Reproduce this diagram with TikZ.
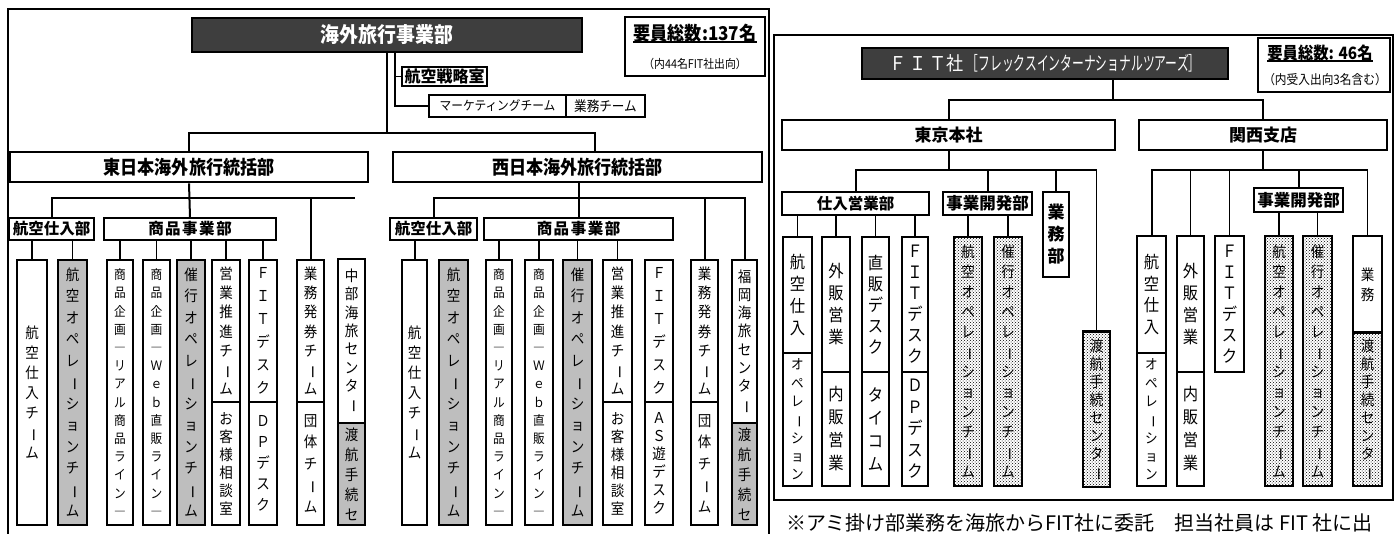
\documentclass[tikz,border=0pt]{standalone}
\usepackage{fontspec}
\usepackage{graphicx}
\usetikzlibrary{patterns}
\newfontfamily\jp{Noto Sans CJK JP}[FakeStretch=0.9]
\newfontfamily\jpc{Noto Sans CJK JP}[FakeStretch=0.62]
\newfontfamily\jpw{Noto Sans CJK JP}
\definecolor{darkbox}{RGB}{62,62,62}
\definecolor{cellgray}{RGB}{190,190,190}

\makeatletter
% one glyph per line, long vowel mark turned upright
\def\vbar{ー}
\newcommand\vtext[2][21]{\vbox{\baselineskip=#1pt\lineskiplimit=-100pt\lineskip=0pt
  \@tfor\ch:=#2\do{\hbox to 1.1em{\hss\ifx\ch\vbar\rotatebox[origin=c]{-90}{ー}\else\ch\fi\hss}}}}
\makeatother
% box from its corners (x1,y1) (x2,y2)
\newcommand\bx[7][]{\node[#1,minimum width={#5-#3},minimum height={#6-#4}] (#2) at ({(#3+#5)/2},{(#4+#6)/2}) {#7};}

\begin{document}
\begin{tikzpicture}[x=1pt,y=-1pt,
  panel/.style={line width=2pt},
  conn/.style={line width=2pt},
  thinconn/.style={line width=1.1pt},
  dark/.style={draw,line width=2.6pt,fill=darkbox,text=white,inner sep=0pt},
  hdr/.style={draw,line width=2.6pt,inner sep=0pt,font=\jp\bfseries\fontsize{19}{19}\selectfont},
  sub/.style={draw,line width=2.4pt,inner sep=0pt,font=\jpw\bfseries\fontsize{15.5}{15.5}\selectfont},
  cell/.style={draw,line width=1.2pt,inner sep=0pt,font=\jp\fontsize{15}{15}\selectfont},
  smalltxt/.style={font=\jp\fontsize{13}{13}\selectfont},
  gcell/.style={cell,fill=cellgray},
  rcell/.style={cell,font=\jp\fontsize{17}{17}\selectfont},
  ami/.style={cell,pattern=crosshatch dots,line width=2pt},
]
\useasboundingbox (0,0) rectangle (1399,534);

% Panels
\draw[panel] (8,540) |- (769,9) -- (769,540);
\draw[panel] (774,35) rectangle (1393,500);

% ---------------- Overseas travel division
\bx[dark,font=\jp\bfseries\fontsize{21}{21}\selectfont]{kaigai}{192}{18}{582}{52}{海外旅行事業部}
\bx[draw,line width=1.5pt]{yoin}{625}{17}{765}{76}{}
\node[inner sep=0pt,font=\jp\bfseries\fontsize{19}{19}\selectfont] (yoin-a) at (695,33) {要員総数:137名};
\draw[line width=1.8pt] (yoin-a.south west) -- (yoin-a.south east);
\node[inner sep=0pt,font=\jp\fontsize{12}{12}\selectfont] (yoin-b) at (695,64) {（内44名FIT社出向）};
\bx[sub,font=\jpw\bfseries\fontsize{16}{16}\selectfont]{senryaku}{402}{67}{487}{86}{航空戦略室}
\bx[cell,font=\jp\fontsize{13}{13}\selectfont]{mkt}{429}{95}{566}{117}{マーケティングチーム}
\bx[cell,font=\jp\fontsize{14}{14}\selectfont]{gyomuT}{566}{95}{645}{117}{業務チーム}
\bx[hdr]{higashi}{10}{152}{368}{182}{東日本海外旅行統括部}
\bx[hdr]{nishi}{393}{152}{762}{182}{西日本海外旅行統括部}

% top connectors
\coordinate (topBus) at (0,133);
\coordinate (nDrop) at ([xshift=17pt]nishi.north);
\draw[conn] (kaigai.south) -- (kaigai.south |- topBus);
\draw[conn] (higashi.north) |- (nDrop |- topBus) -- (nDrop);
\coordinate (sDrop) at ([xshift=8pt]kaigai.south);
\draw[thinconn] (sDrop) |- (senryaku.west);
\draw[thinconn] (sDrop) |- (mkt.west);

% East Japan
\bx[sub]{eKobu}{9}{218}{94}{240}{航空仕入部}
\bx[sub,line width=1.6pt]{eShobu}{104}{218}{276}{240}{商\hspace{1.5pt}品\hspace{1.5pt}事\hspace{1.5pt}業\hspace{1.5pt}部}
\bx[cell,line width=2pt]{eKoT}{17}{260}{47}{525}{\vtext[20]{航空仕入チーム}}
\bx[gcell]{eKoOp}{58}{260}{87}{525}{\vtext[21.5]{航空オペレーションチーム}}
\bx[cell,smalltxt]{eReal}{107}{260}{133}{525}{\vtext[18.2]{商品企画―リアル商品ライン―}}
\bx[cell,smalltxt]{eWeb}{143}{260}{170}{525}{\vtext[18.2]{商品企画―Ｗｅｂ直販ライン―}}
\bx[gcell,line width=2pt]{eSaiko}{177}{260}{205}{525}{\vtext[21.5]{催行オペレーションチーム}}
\bx[cell]{eEigyo}{212}{260}{240}{402}{\vtext[19.3]{営業推進チーム}}
\bx[cell]{eOkyaku}{212}{402}{240}{525}{\vtext[18]{お客様相談室}}
\bx[cell]{eFit}{249}{260}{277}{402}{\vtext[23]{ＦＩＴデスク}}
\bx[cell]{eDp}{249}{402}{277}{525}{\vtext[21]{ＤＰデスク}}
\bx[cell]{eHakken}{297}{260}{324}{402}{\vtext[19.3]{業務発券チーム}}
\bx[cell]{eDantai}{297}{402}{324}{525}{\vtext[21.5]{団体チーム}}
\bx[cell,line width=2pt]{eChubu}{338}{259}{365}{423}{\vtext[18.3]{中部海旅センター}}
\bx[gcell]{eToko}{338}{423}{365}{525}{\vtext[20]{渡航手続セ}}

\coordinate (eBus) at (0,198);
\coordinate (eBusEnd) at (355,198);
\draw[conn] (higashi.south) -- (eShobu.north);
\draw[conn] (eKobu.north) |- (eHakken.north |- eBus) -- (eHakken.north);
\draw[conn] (eHakken.north |- eBus) -- (eBusEnd);
\foreach \col in {eKoT,eKoOp}
  \draw[thinconn] (\col.north) -- (\col.north |- eKobu.south);
\foreach \col in {eReal,eWeb,eSaiko,eEigyo,eFit}
  \draw[thinconn] (\col.north) -- (\col.north |- eShobu.south);

% West Japan
\bx[sub]{wKobu}{390}{218}{477}{240}{航空仕入部}
\bx[sub,line width=1.6pt]{wShobu}{484}{218}{673}{240}{商\hspace{1.5pt}品\hspace{1.5pt}事\hspace{1.5pt}業\hspace{1.5pt}部}
\bx[cell]{wKoT}{402}{260}{427}{525}{\vtext[20]{航空仕入チーム}}
\bx[gcell]{wKoOp}{439}{260}{468}{525}{\vtext[21.5]{航空オペレーションチーム}}
\bx[cell,smalltxt]{wReal}{486}{260}{512}{525}{\vtext[18.2]{商品企画―リアル商品ライン―}}
\bx[cell,smalltxt]{wWeb}{525}{260}{553}{525}{\vtext[18.2]{商品企画―Ｗｅｂ直販ライン―}}
\bx[gcell,line width=2pt]{wSaiko}{563}{260}{592}{525}{\vtext[21.5]{催行オペレーションチーム}}
\bx[cell]{wEigyo}{603}{260}{632}{402}{\vtext[19.3]{営業推進チーム}}
\bx[cell]{wOkyaku}{603}{402}{632}{525}{\vtext[18]{お客様相談室}}
\bx[cell]{wFit}{645}{260}{673}{402}{\vtext[23]{ＦＩＴデスク}}
\bx[cell]{wAs}{645}{402}{673}{525}{\vtext[18]{ＡＳ遊デスク}}
\bx[cell]{wHakken}{691}{260}{718}{402}{\vtext[19.3]{業務発券チーム}}
\bx[cell]{wDantai}{691}{402}{718}{525}{\vtext[21.5]{団体チーム}}
\bx[cell,line width=2pt]{wFukuoka}{732}{260}{757}{423}{\vtext[18.3]{福岡海旅センター}}
\bx[gcell]{wToko}{732}{423}{757}{525}{\vtext[20]{渡航手続セ}}

\coordinate (wBus) at (0,198);
\draw[conn] (nishi.south -| wShobu.north) -- (wShobu.north);
\draw[conn] (wKobu.north) |- (wFukuoka.north |- wBus) -- (wFukuoka.north);
\draw[conn] (wHakken.north |- wBus) -- (wHakken.north);
\draw[conn] (wKoT.north) -- (wKoT.north |- wKobu.south);
\foreach \col in {wReal,wWeb,wSaiko,wEigyo}
  \draw[thinconn] (\col.north) -- (\col.north |- wShobu.south);

% ---------------- FIT
\bx[dark,font=\jp\fontsize{19}{19}\selectfont]{fitsha}{862}{48}{1228}{79}{Ｆ\hspace{3pt}Ｉ\hspace{3pt}Ｔ社\hspace{3pt}{\jpc［フレックスインターナショナルツアーズ］}}
\bx[draw,line width=1.5pt]{yoin2}{1258}{38}{1390}{92}{}
\node[inner sep=0pt,font=\jp\bfseries\fontsize{17}{17}\selectfont] (yoin2-a) at (1320,53) {要員総数: 46名};
\draw[line width=1.8pt] (yoin2-a.south west) -- (yoin2-a.south east);
\node[inner sep=0pt,font=\jp\fontsize{13}{13}\selectfont] (yoin2-b) at (1325,80) {（内受入出向3名含む）};
\bx[hdr,font=\jpw\bfseries\fontsize{17}{17}\selectfont]{tokyo}{782}{120}{1115}{150}{東京本社}
\bx[hdr,font=\jpw\bfseries\fontsize{17}{17}\selectfont]{kansai}{1139}{120}{1387}{150}{関西支店}

\coordinate (fBus) at (0,100);
\coordinate (fDrop) at ([xshift=68pt]fitsha.south);
\draw[conn] (fDrop) -- (fDrop |- fBus);
\draw[conn] (tokyo.north) |- (kansai.north |- fBus) -- (kansai.north);

% Tokyo
\bx[sub]{tShiire}{782}{192}{929}{215}{仕入営業部}
\bx[sub,font=\jpw\bfseries\fontsize{16.5}{16.5}\selectfont]{tJigyo}{943}{192}{1032}{215}{事業開発部}
\bx[sub,font=\jpw\bfseries\fontsize{17}{17}\selectfont]{tGyomu}{1043}{192}{1069}{277}{\vtext[22]{業務部}}
\bx[rcell]{tKoku}{783}{237}{812}{353}{\vtext[21.7]{航空仕入}}
\bx[cell,font=\jp\fontsize{14}{14}\selectfont]{tOpe}{783}{353}{812}{486}{\vtext[18.3]{オペレーション}}
\bx[rcell]{tGaihan}{822}{237}{850}{372}{\vtext[22]{外販営業}}
\bx[rcell]{tNaihan}{822}{372}{850}{486}{\vtext[23]{内販営業}}
\bx[rcell]{tChoku}{862}{237}{889}{372}{\vtext[21]{直販デスク}}
\bx[rcell]{tTaicom}{862}{372}{889}{486}{\vtext[23]{タイコム}}
\bx[rcell]{tFit}{902}{237}{928}{372}{\vtext[21]{ＦＩＴデスク}}
\bx[rcell]{tDp}{902}{372}{928}{486}{\vtext[21.5]{ＤＰデスク}}
\bx[ami]{tKoOp}{954}{237}{982}{486}{\vtext[20]{航空オペレーションチーム}}
\bx[ami]{tSaiko}{994}{237}{1022}{486}{\vtext[20]{催行オペレーションチーム}}
\bx[ami,line width=1.2pt]{tToko}{1083}{332}{1110}{487}{\vtext[18]{渡航手続センター}}
\draw[line width=2.6pt] (tToko.north west) -- (tToko.north east);

\coordinate (tBus) at (0,170);
\draw[conn] (tokyo.south) -- (tokyo.south |- tBus);
\draw[conn] (tShiire.north) |- (tGyomu.north |- tBus) -- (tGyomu.north);
\draw[conn] (tJigyo.north) -- (tJigyo.north |- tBus);
\draw[thinconn] (tGyomu.north |- tBus) -| (tToko.north);
\foreach \col in {tKoku,tGaihan,tChoku,tFit}
  \draw[thinconn] (\col.north) -- (\col.north |- tShiire.south);
\foreach \col in {tKoOp,tSaiko}
  \draw[thinconn] (\col.north) -- (\col.north |- tJigyo.south);

% Kansai
\bx[sub,font=\jpw\bfseries\fontsize{16.5}{16.5}\selectfont]{kJigyo}{1254}{188}{1343}{212}{事業開発部}
\bx[rcell]{kKoku}{1137}{236}{1166}{353}{\vtext[21.7]{航空仕入}}
\bx[cell,font=\jp\fontsize{14}{14}\selectfont]{kOpe}{1137}{353}{1166}{486}{\vtext[18.3]{オペレーション}}
\bx[rcell]{kGaihan}{1177}{236}{1204}{372}{\vtext[22]{外販営業}}
\bx[rcell]{kNaihan}{1177}{372}{1204}{486}{\vtext[23]{内販営業}}
\bx[rcell]{kFit}{1215}{236}{1244}{372}{\vtext[21]{ＦＩＴデスク}}
\bx[ami]{kKoOp}{1265}{236}{1293}{486}{\vtext[20]{航空オペレーションチーム}}
\bx[ami]{kSaiko}{1303}{236}{1332}{486}{\vtext[20]{催行オペレーションチーム}}
\bx[cell]{kGyomu}{1353}{236}{1382}{333}{\vtext[20]{業務}}
\bx[ami,line width=1.2pt]{kToko}{1353}{333}{1382}{486}{\vtext[18]{渡航手続センター}}
\draw[line width=2.6pt] (kToko.north west) -- (kToko.north east);

\coordinate (kBus) at (0,170);
\draw[conn] (kansai.south) -- (kansai.south |- kBus);
\draw[conn] (kKoku.north) |- (kGyomu.north |- kBus);
\draw[thinconn] (kGyomu.north |- kBus) -- (kGyomu.north);
\draw[conn] (kJigyo.north) -- (kJigyo.north |- kBus);
\foreach \col in {kGaihan,kFit}
  \draw[thinconn] (\col.north) -- (\col.north |- kBus);
\foreach \col in {kKoOp,kSaiko}
  \draw[thinconn] (\col.north) -- (\col.north |- kJigyo.south);

% Note
\node[anchor=west,inner sep=0pt,font=\jpw\fontsize{20}{20}\selectfont] (note) at (786,523) {※アミ掛け部業務を海旅からFIT社に委託　担当社員は FIT 社に出};
\end{tikzpicture}
\end{document}
